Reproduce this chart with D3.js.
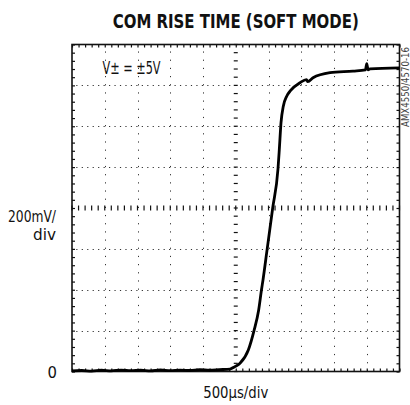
<!DOCTYPE html>
<html>
<head>
<meta charset="utf-8">
<script src="https://cdn.jsdelivr.net/npm/d3@7"></script>
<style>
  body { margin: 0; background: #fff; }
  svg { display: block; }
  text { font-family: "Liberation Sans Narrow", "DejaVu Sans Condensed", "Roboto", sans-serif; fill: #111; }
</style>
</head>
<body>
<script>
var width = 410,
    height = 405;

var plotLeft = 72, plotTop = 44.5, plotRight = 399.5, plotBottom = 371.5;

// scope trace: time in µs, level in mV
var timeUs = [0, 150, 300, 450, 600, 750, 900, 1050, 1200, 1350, 1500, 1650, 1800, 1950,
  2100, 2250, 2412, 2489, 2565, 2692, 2779, 2850, 2893, 2916, 2980, 3064, 3145, 3165,
  3191, 3226, 3278, 3335, 3481, 3580, 3600, 3680, 3939, 4290, 4480, 4500, 4520, 4550, 5000];
var levelMv = [3, 5, 2, 6, 3, 7, 4, 6, 3, 8, 4, 7, 5, 9,
  6, 9, 12, 24, 40, 105, 200, 301, 400, 448, 600, 800, 992, 1086,
  1218, 1298, 1347, 1374, 1413, 1428, 1418, 1437, 1462, 1470, 1476, 1506, 1476, 1481, 1486];

var xDivs = 10, yDivs = 8;
var usPerDiv = 500, mvPerDiv = 200;

var titleText = "COM RISE TIME (SOFT MODE)";
var supplyText = "V\u00B1 = \u00B15V";
var yUnitText = ["200mV/", "div"];
var yZeroText = "0";
var xUnitText = "500\u00B5s/div";
var partText = "AMX4550/4570-16";

var x = d3.scaleLinear().domain([0, xDivs * usPerDiv]).range([plotLeft, plotRight]);
var y = d3.scaleLinear().domain([0, yDivs * mvPerDiv]).range([plotBottom, plotTop]);

var svg = d3.select("body").append("svg")
    .attr("width", width)
    .attr("height", height);

var xMajor = d3.range(0, xDivs * usPerDiv + 1, usPerDiv),
    yMajor = d3.range(0, yDivs * mvPerDiv + 1, mvPerDiv),
    xMinor = d3.range(0, xDivs * usPerDiv + 1, usPerDiv / 5),
    yMinor = d3.range(0, yDivs * mvPerDiv + 1, mvPerDiv / 5);

var xCenter = xDivs * usPerDiv / 2,
    yCenter = yDivs * mvPerDiv / 2;

// dotted graticule
var xStep = x(usPerDiv) - x(0),
    yStep = y(0) - y(mvPerDiv);

svg.append("g")
    .selectAll("line")
    .data(yMajor.filter(function(d) { return d > 0 && d < yDivs * mvPerDiv && d !== yCenter; }))
  .enter().append("line")
    .attr("x1", plotLeft).attr("x2", plotRight)
    .attr("y1", function(d) { return Math.round(y(d)) + 0.5; })
    .attr("y2", function(d) { return Math.round(y(d)) + 0.5; })
    .style("stroke", "#333")
    .style("stroke-width", 1)
    .style("stroke-dasharray", "1.2," + (xStep / 6 - 1.2))
    .style("stroke-dashoffset", -(xStep / 6 - 1.2));

svg.append("g")
    .selectAll("line")
    .data(xMajor.filter(function(d) { return d > 0 && d < xDivs * usPerDiv && d !== xCenter; }))
  .enter().append("line")
    .attr("y1", plotTop).attr("y2", plotBottom)
    .attr("x1", function(d) { return Math.round(x(d)) + 0.5; })
    .attr("x2", function(d) { return Math.round(x(d)) + 0.5; })
    .style("stroke", "#333")
    .style("stroke-width", 1)
    .style("stroke-dasharray", "1.2," + (yStep / 5 - 1.2))
    .style("stroke-dashoffset", -(yStep / 5 - 1.2));

// center cross with subdivision ticks
var cross = svg.append("g").style("stroke", "#111").style("stroke-width", 1.2);

cross.selectAll(".hx")
    .data(xMinor)
  .enter().append("line")
    .attr("x1", function(d) { return x(d); })
    .attr("x2", function(d) { return x(d); })
    .attr("y1", y(yCenter) - 2.5)
    .attr("y2", y(yCenter) + 2.5);

cross.selectAll(".vy")
    .data(yMinor)
  .enter().append("line")
    .attr("y1", function(d) { return y(d); })
    .attr("y2", function(d) { return y(d); })
    .attr("x1", x(xCenter) - 2)
    .attr("x2", x(xCenter) + 2);

// frame ticks, pointing inward
function edge(axis, tr) {
  var g = svg.append("g")
      .attr("transform", tr)
      .call(axis);
  g.select(".domain").remove();
  g.selectAll("text").remove();
  g.selectAll("line").style("stroke", "#111").style("stroke-width", 1.2);
}

edge(d3.axisTop(x).tickValues(xMinor).tickSize(-3), "translate(0," + plotTop + ")");
edge(d3.axisBottom(x).tickValues(xMinor).tickSize(-3), "translate(0," + plotBottom + ")");
edge(d3.axisLeft(y).tickValues(yMinor).tickSize(-3), "translate(" + plotLeft + ",0)");
edge(d3.axisRight(y).tickValues(yMinor).tickSize(-3), "translate(" + plotRight + ",0)");

// frame
svg.append("rect")
    .attr("x", plotLeft)
    .attr("y", plotTop)
    .attr("width", plotRight - plotLeft)
    .attr("height", plotBottom - plotTop)
    .style("fill", "none")
    .style("stroke", "#111")
    .style("stroke-width", 1.6);

// trace
var trace = timeUs.map(function(t, i) { return [t, levelMv[i]]; });

var line = d3.line()
    .x(function(d) { return x(d[0]); })
    .y(function(d) { return y(d[1]); })
    .curve(d3.curveMonotoneX);

svg.append("path")
    .datum(trace)
    .attr("d", line)
    .style("fill", "none")
    .style("stroke", "#000")
    .style("stroke-width", 2.8)
    .style("stroke-linejoin", "round");

// text
svg.append("text")
    .attr("x", (plotLeft + plotRight) / 2)
    .attr("y", 27.5)
    .attr("text-anchor", "middle")
    .attr("textLength", 246)
    .attr("lengthAdjust", "spacingAndGlyphs")
    .style("font-size", "20px")
    .style("font-weight", "bold")
    .text(titleText);

svg.append("text")
    .attr("x", 102.5)
    .attr("y", 73.5)
    .attr("textLength", 58)
    .attr("lengthAdjust", "spacingAndGlyphs")
    .style("font-size", "17.5px")
    .text(supplyText);

svg.append("g")
    .selectAll("text")
    .data(yUnitText)
  .enter().append("text")
    .attr("x", 56)
    .attr("y", function(d, i) { return 222 + i * 18; })
    .attr("text-anchor", "end")
    .attr("textLength", function(d, i) { return i ? 23 : 48; })
    .attr("lengthAdjust", "spacingAndGlyphs")
    .style("font-size", "16.5px")
    .text(function(d) { return d; });

svg.append("text")
    .attr("x", 57)
    .attr("y", y(0) + 6)
    .attr("text-anchor", "end")
    .style("font-size", "16.5px")
    .text(yZeroText);

svg.append("text")
    .attr("x", (plotLeft + plotRight) / 2)
    .attr("y", 398)
    .attr("text-anchor", "middle")
    .attr("textLength", 65)
    .attr("lengthAdjust", "spacingAndGlyphs")
    .style("font-size", "16.5px")
    .text(xUnitText);

svg.append("text")
    .attr("transform", "translate(409,127) rotate(-90)")
    .attr("textLength", 80)
    .attr("lengthAdjust", "spacingAndGlyphs")
    .style("font-size", "10.5px")
    .style("fill", "#444")
    .text(partText);
</script>
</body>
</html>
